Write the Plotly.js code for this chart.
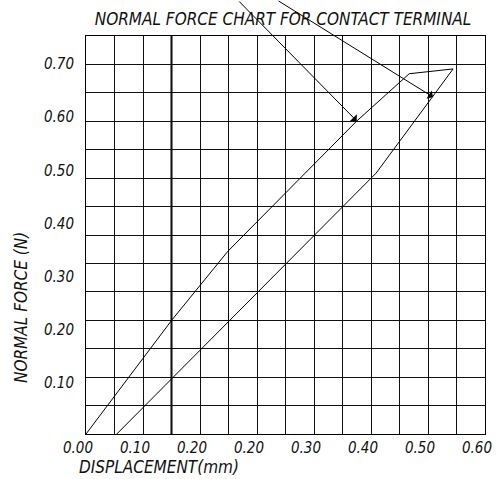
<!DOCTYPE html>
<html>
<head>
<meta charset="utf-8">
<script src="https://cdn.plot.ly/plotly-3.0.1.min.js"></script>
<style>html,body{margin:0;padding:0;background:#fff;}#chart{width:500px;height:479px;}</style>
</head>
<body>
<div id="chart"></div>
<script>
// Loading branch (upper curve) and unloading branch (lower curve)
const dispLoad = [0, 0.151, 0.249, 0.475, 0.567, 0.644];
const forceLoad = [0, 0.215, 0.344, 0.589, 0.678, 0.687];
const dispUnload = [0.644, 0.509, 0.054];
const forceUnload = [0.687, 0.491, 0];

// Tick labels as printed on the reference
const xTickVals = [0, 0.1, 0.2, 0.3, 0.4, 0.5, 0.6, 0.7];
const xTickText = ['0.00', '0.10', '0.20', '0.20', '0.30', '0.40', '0.50', '0.60'];
const yTickVals = [0.1, 0.2, 0.3, 0.4, 0.5, 0.6, 0.7];
const yTickText = ['0.10', '0.20', '0.30', '0.40', '0.50', '0.60', '0.70'];

// Leader-arrow targets on the curves
const arrowTipX = [0.475, 0.609];
const arrowTipY = [0.589, 0.634];

const chartTitle = 'NORMAL FORCE CHART FOR CONTACT TERMINAL';
const xTitle = 'DISPLACEMENT(mm)';
const yTitle = 'NORMAL FORCE (N)';

const FONT = 'DejaVu Sans Condensed, DejaVu Sans, sans-serif';
const baseFont = {family: FONT, size: 15, color: '#111', style: 'italic'};
const titleFont = Object.assign({}, baseFont, {size: 17});

const lineStyle = {color: '#000', width: 1};
const traces = [
  {x: dispLoad, y: forceLoad, type: 'scatter', mode: 'lines', line: lineStyle, hoverinfo: 'skip', showlegend: false},
  {x: dispUnload, y: forceUnload, type: 'scatter', mode: 'lines', line: lineStyle, hoverinfo: 'skip', showlegend: false},
  // invisible carrier so that the grid axis (y2) is drawn
  {x: [dispLoad[0]], y: [forceLoad[0]], yaxis: 'y2', type: 'scatter', mode: 'markers',
   marker: {opacity: 0, size: 1}, hoverinfo: 'skip', showlegend: false}
];

const layout = {
  width: 500, height: 479,
  margin: {l: 86, r: 15, t: 36, b: 45, pad: 0},
  paper_bgcolor: '#fff', plot_bgcolor: '#fff',
  showlegend: false,
  title: {text: chartTitle, x: 0.566, xanchor: 'center', xref: 'container', y: 1 - 19 / 479, yanchor: 'middle',
          yref: 'container', font: titleFont},
  xaxis: {
    range: [0, 0.7], tickmode: 'array', tickvals: xTickVals, ticktext: xTickText,
    showgrid: true, gridcolor: '#111', gridwidth: 1,
    minor: {tickmode: 'linear', tick0: 0, dtick: 0.05, showgrid: true, gridcolor: '#111', gridwidth: 1, ticks: ''},
    ticks: '', ticklabelshift: -8, ticklabelstandoff: 0,
    showline: true, linecolor: '#000', linewidth: 1, mirror: true,
    zeroline: false, tickfont: baseFont, fixedrange: true
  },
  yaxis: {
    range: [0, 0.749], tickmode: 'array', tickvals: yTickVals, ticktext: yTickText,
    showgrid: false, ticks: '', ticklabelshift: 2, ticklabelstandoff: 8,
    showline: true, linecolor: '#000', linewidth: 1, mirror: true,
    zeroline: false, tickfont: baseFont, fixedrange: true
  },
  yaxis2: {
    overlaying: 'y', side: 'left', range: [0, 0.7], tickmode: 'linear', tick0: 0, dtick: 0.05,
    showgrid: true, gridcolor: '#111', gridwidth: 1, showticklabels: false, ticks: '',
    zeroline: false, showline: false, fixedrange: true
  },
  shapes: [
    {type: 'line', xref: 'x', yref: 'paper', x0: 0.15, x1: 0.15, y0: 0, y1: 1, line: {color: '#000', width: 2}, layer: 'below'}
  ],
  annotations: [
    {x: arrowTipX[0], y: arrowTipY[0], xref: 'x', yref: 'y', text: '', showarrow: true,
     ax: -119, ay: -121, arrowhead: 1, arrowsize: 1.6, arrowwidth: 1, arrowcolor: '#000', standoff: 0},
    {x: arrowTipX[1], y: arrowTipY[1], xref: 'x', yref: 'y', text: '', showarrow: true,
     ax: -156, ay: -97, arrowhead: 1, arrowsize: 1.6, arrowwidth: 1, arrowcolor: '#000', standoff: 0},
    {text: xTitle, xref: 'paper', yref: 'paper', x: (77 - 86) / 399, y: (434 - 467) / 398,
     xanchor: 'left', yanchor: 'middle', showarrow: false, font: titleFont},
    {text: yTitle, xref: 'paper', yref: 'paper', x: (21 - 86) / 399, y: (434 - 308) / 398,
     xanchor: 'center', yanchor: 'middle', textangle: -90, showarrow: false, font: titleFont}
  ]
};

Plotly.newPlot('chart', traces, layout, {staticPlot: true, displayModeBar: false});
</script>
</body>
</html>
